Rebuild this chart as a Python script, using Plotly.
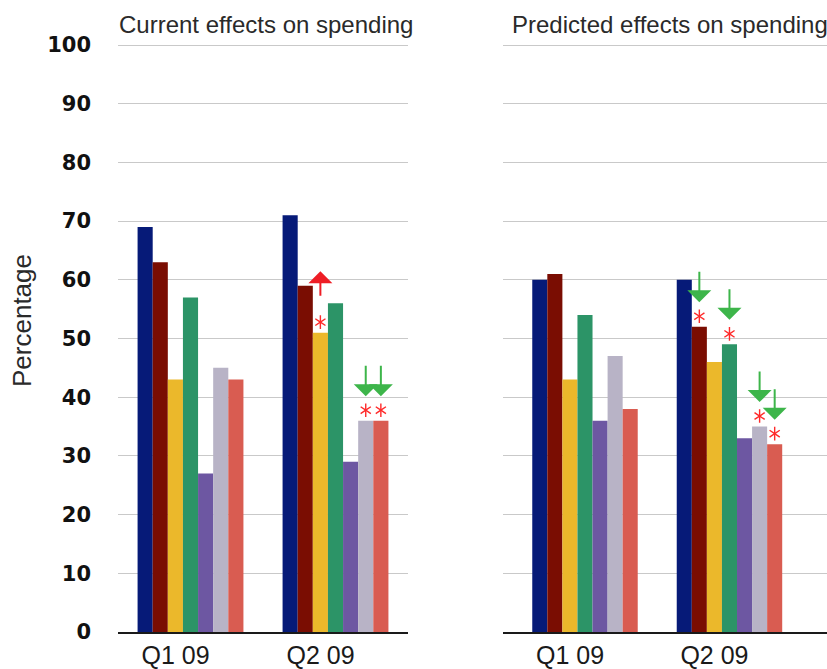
import plotly.graph_objects as go

# Quarters on the x axis
categories = ["Q1 09", "Q2 09"]

# Seven respondent groups, one bar each per quarter
series_names = ["Group 1", "Group 2", "Group 3", "Group 4", "Group 5", "Group 6", "Group 7"]
series_colors = ["#061a78", "#7a0d02", "#ebb82b", "#2c9467", "#6d57a2", "#b8b3c6", "#d95c51"]

# Percentages, current effects on spending
current_q1 = [69, 63, 43, 57, 27, 45, 43]
current_q2 = [71, 59, 51, 56, 29, 36, 36]

# Percentages, predicted effects on spending
predicted_q1 = [60, 61, 43, 54, 36, 47, 38]
predicted_q2 = [60, 52, 46, 49, 33, 35, 32]

# Significant Q2 changes versus Q1 (series index -> direction)
current_q2_changes = {2: "up", 5: "down", 6: "down"}
predicted_q2_changes = {1: "down", 3: "down", 5: "down", 6: "down"}

y_ticks = [0, 10, 20, 30, 40, 50, 60, 70, 80, 90, 100]

W, H = 827, 669
BARGAP = 0.27
N = len(series_names)
PX_PER_UNIT = 5.87  # vertical pixels per percentage point

fig = go.Figure()

panels = [
    ("x", "y", current_q1, current_q2, current_q2_changes),
    ("x2", "y2", predicted_q1, predicted_q2, predicted_q2_changes),
]

for xa, ya, q1, q2, changes in panels:
    for i, name in enumerate(series_names):
        fig.add_trace(go.Bar(
            x=[0, 1], y=[q1[i], q2[i]], name=name,
            marker=dict(color=series_colors[i], line=dict(width=0)),
            xaxis=xa, yaxis=ya, showlegend=False,
        ))

    # centre of each bar within its group
    bw = (1 - BARGAP) / N
    offsets = [-(1 - BARGAP) / 2 + (i + 0.5) * bw for i in range(N)]

    star_x, star_y = [], []
    for idx, direction in changes.items():
        xv = 1 + offsets[idx]
        val = q2[idx]
        star_x.append(xv)
        star_y.append(val + 10.5 / PX_PER_UNIT)
        if direction == "down":
            tip = val + 24.5 / PX_PER_UNIT
            ay = -32
            col = "#3db54a"
        else:
            tip = val + 61.5 / PX_PER_UNIT
            ay = 26
            col = "#ee1d25"
        fig.add_annotation(
            x=xv, y=tip, xref=xa, yref=ya, text="", showarrow=True,
            ax=0, ay=ay, arrowhead=1, arrowwidth=2, arrowsize=2.0,
            arrowcolor=col,
        )
    # six-spoked asterisks built from two Y markers
    for sym in ["y-up-open", "y-down-open"]:
        fig.add_trace(go.Scatter(
            x=star_x, y=star_y, mode="markers", xaxis=xa, yaxis=ya,
            showlegend=False, hoverinfo="skip",
            marker=dict(symbol=sym, size=8.5, color="#ff2a2a",
                        line=dict(color="#ff2a2a", width=1.4)),
        ))

y_top = 101
y_dom = [(H - 632) / H, (H - (632 - y_top * PX_PER_UNIT)) / H]

axis_common = dict(
    tickmode="array", tickvals=[0, 1], ticktext=categories,
    showgrid=False, zeroline=False, showline=True,
    linecolor="#1a1a1a", linewidth=1.5, ticks="",
    tickfont=dict(family="Liberation Sans, Arial", size=25, color="#1a1a1a"),
    ticklabelstandoff=0, ticklabelshift=-15, automargin=False,
)
grid_common = dict(
    range=[0, y_top], tickmode="array", tickvals=y_ticks,
    showgrid=True, gridcolor="#c9c9c9", gridwidth=1.3,
    zeroline=False, showline=False, ticks="", domain=y_dom, automargin=False,
)

fig.update_layout(
    width=W, height=H,
    margin=dict(l=0, r=0, t=0, b=0, autoexpand=False),
    paper_bgcolor="white", plot_bgcolor="white",
    barmode="group", bargap=BARGAP, bargroupgap=0,
    showlegend=False,
    xaxis=dict(domain=[118 / W, 408 / W], range=[-0.5, 1.5], anchor="y", **axis_common),
    xaxis2=dict(domain=[503 / W, 1.0], range=[-0.5675, 1.675], anchor="y2", **axis_common),
    yaxis=dict(anchor="x", showticklabels=True, ticklabelstandoff=26,
               tickfont=dict(family="DejaVu Sans", size=21, color="#111111", weight="bold"),
               **grid_common),
    yaxis2=dict(anchor="x2", showticklabels=False, **grid_common),
)

title_font = dict(family="Liberation Sans, Arial", size=24, color="#2a2a2a")
fig.add_annotation(text="Current effects on spending", xref="paper", yref="paper",
                   x=117 / W, y=(H - 25) / H, xanchor="left", yanchor="middle",
                   showarrow=False, font=title_font)
fig.add_annotation(text="Predicted effects on spending", xref="paper", yref="paper",
                   x=510 / W, y=(H - 25) / H, xanchor="left", yanchor="middle",
                   showarrow=False, font=title_font)
fig.add_annotation(text="Percentage", xref="paper", yref="paper",
                   x=22 / W, y=(H - 321) / H, xanchor="center", yanchor="middle",
                   textangle=-90, showarrow=False,
                   font=dict(family="Liberation Sans, Arial", size=26, color="#2a2a2a"))

fig.write_html("out.html")
